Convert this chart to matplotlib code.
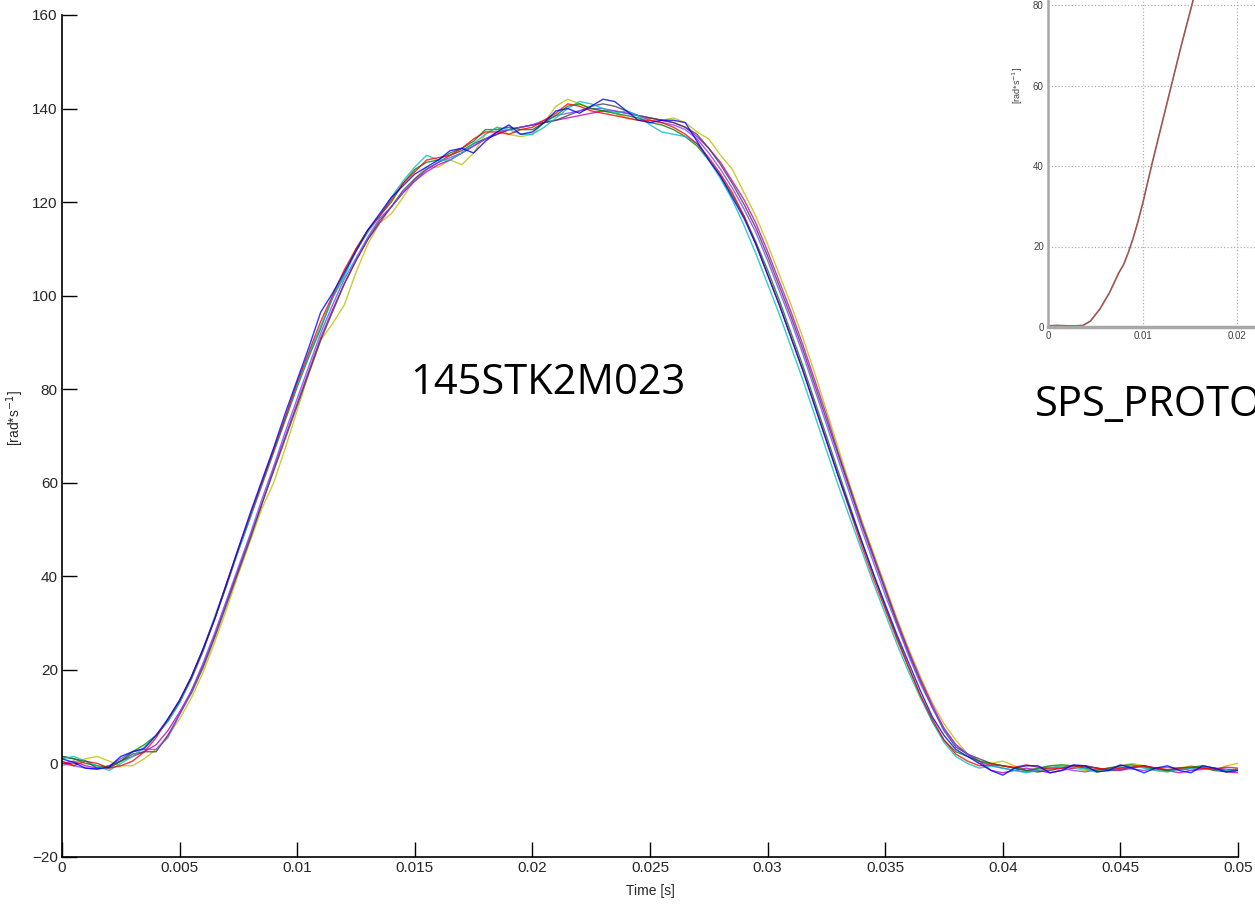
import matplotlib
matplotlib.use('Agg')
import matplotlib.pyplot as plt
import numpy as np

plt.rcParams['font.family'] = ['Liberation Sans', 'DejaVu Sans']

# sample times of the measured speed curves (0.5 ms step)
t = np.linspace(0, 0.05, 101)

speed_b = [1.0, 0.2, -1.0, -1.2, -0.8, 1.5, 2.5, 3.2, 6.0, 9.5,
           13.5, 18.5, 24.5, 31.0, 38.5, 46.0, 53.5, 60.5, 67.5, 75.0,
           82.0, 89.0, 96.5, 100.5, 105.0, 109.5, 114.0, 117.5, 121.0, 123.5,
           126.0, 127.5, 129.0, 131.0, 131.5, 130.5, 133.0, 135.0, 136.5, 134.5,
           135.0, 137.0, 139.5, 140.0, 139.0, 140.5, 142.0, 141.5, 139.5, 137.5,
           137.0, 137.5, 137.5, 137.0, 133.0, 129.0, 125.5, 121.0, 116.5, 111.0,
           104.5, 98.0, 91.0, 84.0, 76.5, 69.0, 61.5, 54.5, 47.5, 40.5,
           34.0, 27.5, 21.5, 15.5, 10.0, 6.0, 3.0, 1.5, 0.0, -1.5,
           -2.5, -1.0, -0.5, -0.5, -2.0, -1.5, -0.3, -0.5, -1.8, -1.5,
           -0.3, -1.0, -2.0, -1.0, -0.5, -1.5, -2.0, -0.5, -1.0, -1.8, -1.5]
speed_g = [1.5, 1.0, 0.0, -0.5, -0.8, 0.5, 2.5, 4.0, 6.0, 9.0,
           13.0, 18.0, 24.0, 31.0, 38.0, 45.5, 52.5, 59.5, 66.5, 73.5,
           80.5, 87.0, 93.0, 99.5, 104.5, 110.0, 114.0, 117.0, 120.0, 124.0,
           127.0, 128.5, 129.0, 130.5, 131.5, 133.0, 135.5, 135.5, 136.0, 135.5,
           135.5, 137.0, 138.5, 140.5, 141.0, 140.0, 139.5, 139.0, 138.5, 138.0,
           137.0, 136.5, 135.5, 134.0, 132.0, 129.0, 125.5, 121.5, 117.0, 111.5,
           105.5, 99.0, 92.0, 85.0, 77.5, 70.0, 62.5, 55.0, 47.5, 40.5,
           33.5, 27.0, 20.5, 14.5, 9.0, 5.0, 2.5, 1.5, 0.5, 0.0,
           -0.5, -1.0, -1.5, -1.0, -0.5, -0.3, -0.5, -1.0, -1.5, -1.0,
           -0.5, -0.3, -0.8, -1.2, -1.5, -1.0, -0.8, -0.5, -1.0, -1.5, -1.2]
speed_r = [0.5, -0.5, 0.5, 0.0, -1.0, -0.5, 0.5, 2.5, 5.5, 9.5,
           13.5, 18.5, 24.5, 31.0, 38.5, 46.0, 53.0, 60.0, 67.0, 74.0,
           81.5, 88.0, 94.5, 100.0, 105.5, 110.0, 114.0, 117.0, 120.5, 124.0,
           126.5, 129.0, 129.5, 130.0, 131.5, 133.5, 135.0, 135.0, 134.5, 135.5,
           136.0, 137.5, 139.0, 141.0, 140.5, 139.5, 139.0, 138.5, 138.0, 137.5,
           137.5, 137.0, 136.0, 134.5, 132.5, 129.5, 126.0, 122.0, 117.0, 111.0,
           104.5, 98.0, 91.0, 84.0, 76.5, 69.0, 61.5, 54.0, 46.5, 39.5,
           33.0, 26.5, 20.5, 14.5, 9.5, 5.0, 2.0, 0.5, -0.5, -0.3,
           -0.5, -0.8, -0.3, -0.8, -1.2, -1.0, -0.5, -0.8, -1.0, -1.3,
           -1.0, -0.8, -0.5, -1.0, -1.3, -1.0, -0.8, -1.0, -1.2, -0.8, -1.0]
speed_c = [1.0, 1.5, 0.5, -0.5, -1.5, 0.0, 1.5, 3.5, 6.0, 9.0,
           13.0, 18.5, 24.5, 31.5, 38.5, 45.5, 52.5, 60.0, 67.0, 74.0,
           81.0, 87.5, 93.5, 99.5, 104.0, 109.5, 113.5, 117.0, 121.0, 124.5,
           127.5, 130.0, 129.0, 129.0, 130.5, 132.5, 134.5, 136.0, 135.5, 134.5,
           134.5, 136.0, 138.0, 140.0, 141.5, 141.0, 140.0, 139.0, 139.5, 138.5,
           136.5, 135.0, 134.5, 134.0, 132.5, 129.0, 125.0, 120.5, 115.0, 109.0,
           102.5, 96.0, 89.0, 82.0, 74.5, 67.0, 59.5, 52.5, 45.5, 38.5,
           32.0, 25.5, 19.5, 14.0, 9.0, 4.5, 1.5, 0.0, -1.0, -0.5,
           -1.0, -1.5, -2.0, -1.5, -1.0, -0.5, -0.8, -1.2, -1.8, -1.5,
           -1.0, -0.5, -1.0, -1.5, -1.8, -1.2, -1.0, -0.8, -1.3, -1.6, -1.4]
speed_m = [0.0, 0.5, -0.5, -1.0, -0.5, 0.5, 1.5, 2.5, 4.0, 7.0,
           11.0, 15.5, 21.0, 27.5, 34.5, 41.5, 48.5, 55.5, 63.0, 70.0,
           77.0, 84.0, 91.0, 97.0, 102.5, 107.5, 112.0, 115.5, 119.0, 122.0,
           124.5, 126.5, 128.0, 129.0, 130.5, 132.0, 133.5, 134.5, 135.5, 136.0,
           136.5, 137.0, 137.5, 138.0, 138.5, 139.0, 139.5, 139.5, 139.0, 138.5,
           138.0, 137.5, 137.0, 136.0, 134.0, 131.5, 128.5, 124.5, 120.5, 115.5,
           109.5, 103.0, 96.5, 89.5, 82.0, 74.5, 66.5, 59.0, 51.5, 44.5,
           37.5, 30.5, 24.0, 18.0, 12.5, 7.5, 4.0, 2.0, 0.5, -1.5,
           -2.0, -1.5, -1.0, -1.5, -2.0, -1.5, -1.0, -0.5, -1.0, -1.5,
           -1.5, -1.0, -0.5, -1.0, -1.5, -2.0, -1.5, -1.0, -1.2, -1.8, -2.0]
speed_y = [-0.5, 0.0, 1.0, 1.5, 0.5, -0.5, -0.5, 1.0, 3.0, 6.0,
           9.5, 14.0, 19.5, 26.0, 33.0, 40.5, 47.5, 54.5, 60.0, 67.5,
           75.5, 83.5, 90.5, 94.0, 98.0, 105.0, 111.0, 115.5, 117.5, 121.0,
           125.0, 127.5, 127.5, 129.0, 128.0, 130.5, 134.5, 136.0, 134.5, 134.0,
           134.5, 137.0, 140.5, 142.0, 141.0, 140.0, 139.5, 139.0, 138.0, 137.5,
           138.0, 137.5, 138.0, 137.0, 135.0, 133.5, 130.0, 127.0, 122.0, 117.0,
           111.0, 104.5, 98.0, 91.0, 83.5, 75.5, 67.5, 59.5, 52.0, 45.0,
           38.0, 31.0, 24.5, 18.5, 13.0, 8.5, 5.0, 2.0, 0.0, 0.0,
           0.5, -0.5, -1.5, -1.8, -1.0, -0.5, -1.0, -1.5, -1.8, -1.0,
           -0.5, 0.0, -0.5, -1.5, -1.8, -1.0, -0.5, -1.0, -1.5, -0.5, 0.0]
speed_k = [1.5, 1.0, 0.5, -1.0, -1.0, 0.5, 2.0, 2.5, 2.5, 6.0,
           10.5, 15.0, 20.5, 27.0, 34.0, 41.0, 48.0, 55.5, 62.5, 69.5,
           76.5, 83.5, 90.5, 96.5, 102.5, 107.5, 112.0, 116.0, 119.0, 122.5,
           125.0, 127.0, 128.5, 130.0, 131.0, 132.5, 133.5, 134.5, 135.5, 136.0,
           136.5, 137.0, 137.5, 138.5, 139.5, 140.5, 141.0, 140.5, 139.5, 138.5,
           138.0, 137.5, 137.0, 136.0, 134.5, 131.5, 128.0, 124.0, 119.5, 114.5,
           108.5, 102.0, 95.5, 88.5, 81.0, 73.5, 66.0, 58.5, 51.0, 44.0,
           37.0, 30.0, 23.5, 17.5, 12.0, 7.0, 3.5, 2.0, 1.0, 0.0,
           -0.5, -1.0, -1.5, -1.8, -1.5, -1.0, -0.5, -0.5, -1.0, -1.5,
           -1.3, -0.8, -0.5, -1.0, -1.5, -1.3, -1.0, -0.8, -1.5, -1.8, -1.5]
speed_p = [0.0, -0.5, -1.0, -1.2, -0.5, 1.0, 2.5, 3.0, 3.0, 5.5,
           10.5, 15.5, 21.5, 28.0, 35.0, 42.0, 49.0, 56.5, 63.5, 71.0,
           78.0, 85.0, 92.0, 98.0, 103.5, 108.0, 112.5, 116.5, 119.0, 122.0,
           124.5, 127.0, 128.5, 129.5, 130.5, 132.0, 133.5, 135.0, 135.5, 136.0,
           136.5, 137.5, 138.5, 139.0, 139.5, 140.0, 140.0, 139.5, 139.0, 138.5,
           137.5, 137.0, 136.5, 135.5, 133.5, 130.5, 127.0, 123.0, 118.5, 113.5,
           107.5, 101.0, 94.5, 87.5, 80.0, 72.5, 65.0, 57.5, 50.0, 43.0,
           36.0, 29.5, 23.0, 17.0, 12.0, 7.5, 4.0, 2.0, 0.5, -0.5,
           -1.0, -1.5, -1.8, -1.2, -0.8, -1.0, -1.5, -1.8, -1.3, -1.0,
           -0.8, -1.2, -1.5, -1.0, -0.8, -1.0, -1.5, -1.3, -1.0, -1.2, -1.5]

series = [(speed_y, '#bfbf00'), (speed_m, '#bf00bf'), (speed_k, '#404040'),
          (speed_p, '#7f3fff'), (speed_g, '#008000'), (speed_c, '#00bfbf'),
          (speed_r, '#ff0000'), (speed_b, '#0000ff')]

# second (cropped) chart on the slide
inset_t = [0.0, 0.001, 0.002, 0.003, 0.0037, 0.0045, 0.005, 0.0055, 0.006,
           0.0065, 0.007, 0.0075, 0.008, 0.0085, 0.009, 0.0095, 0.010, 0.0105,
           0.011, 0.012, 0.013, 0.014, 0.015, 0.016, 0.017]
inset_v = [0.3, 0.4, 0.3, 0.3, 0.4, 1.5, 3.0, 4.5, 6.5,
           8.5, 11.0, 13.5, 15.5, 18.5, 22.0, 26.0, 30.5, 35.5,
           40.5, 50.0, 59.5, 69.0, 78.0, 87.0, 96.0]

fig = plt.figure(figsize=(12.55, 9.07), dpi=100)
W, H = 1255.0, 907.0

ax = fig.add_axes([62 / W, 50 / H, 1176 / W, 842 / H])
for vals, col in series:
    ax.plot(t, vals, color=col, lw=1.0, alpha=0.8)
ax.set_xlim(0, 0.05)
ax.set_ylim(-20, 160)
ax.set_xticks(np.arange(0, 0.0501, 0.005))
ax.set_xticklabels(['0', '0.005', '0.01', '0.015', '0.02', '0.025', '0.03',
                    '0.035', '0.04', '0.045', '0.05'])
ax.set_yticks(np.arange(-20, 161, 20))
ax.set_yticklabels(['\u221220'] + [str(v) for v in range(0, 161, 20)])
for s in ['top', 'right']:
    ax.spines[s].set_visible(False)
for s in ['left', 'bottom']:
    ax.spines[s].set_linewidth(1.2)
ax.tick_params(direction='in', length=11, width=1.0, labelsize=11,
               colors='black', labelcolor='#262626', pad=3)
ax.set_xlabel('Time [s]', fontsize=10, color='#262626', labelpad=6)
fig.text(15 / W, 1 - 418 / H, '[rad*s$^{-1}$]', rotation=90, fontsize=10,
         color='#262626', ha='center', va='center')

# inset (second plot, cut off by the slide edge)
ax2 = fig.add_axes([1048 / W, 580 / H, 472.5 / W, 402.5 / H])
ax2.plot(inset_t, inset_v, color='#8a6058', lw=1.2)
ax2.plot(inset_t, inset_v, color='#e04040', lw=0.6, ls='--', alpha=0.6)
ax2.set_xlim(0, 0.05)
ax2.set_ylim(0, 100)
ax2.set_xticks([0, 0.01, 0.02, 0.03])
ax2.set_xticklabels(['0', '0.01', '0.02', ''])
ax2.set_yticks([0, 20, 40, 60, 80, 100])
ax2.set_yticklabels(['0', '20', '40', '60', '80', ''])
ax2.grid(True, color='#b0b0b0', ls=':', lw=0.9)
for s in ['top', 'right']:
    ax2.spines[s].set_visible(False)
ax2.spines['left'].set_color('#a8a8a8')
ax2.spines['left'].set_linewidth(1.8)
ax2.spines['bottom'].set_color('#a8a8a8')
ax2.spines['bottom'].set_linewidth(2.5)
ax2.tick_params(length=0, labelsize=7, labelcolor='#404040', pad=3)
fig.text(1018 / W, 1 - 85 / H, '[rad*s$^{-1}$]', rotation=90, fontsize=6.5,
         color='#404040', ha='center', va='center')

fig.text(410 / W, 1 - 383 / H, '145STK2M023', fontsize=30,
         family='Open Sans', ha='left', va='center', color='black')
fig.text(1035 / W, 1 - 405 / H, 'SPS_PROTO', fontsize=30,
         family='Open Sans', ha='left', va='center', color='black')

fig.savefig('out.png', dpi=100)
